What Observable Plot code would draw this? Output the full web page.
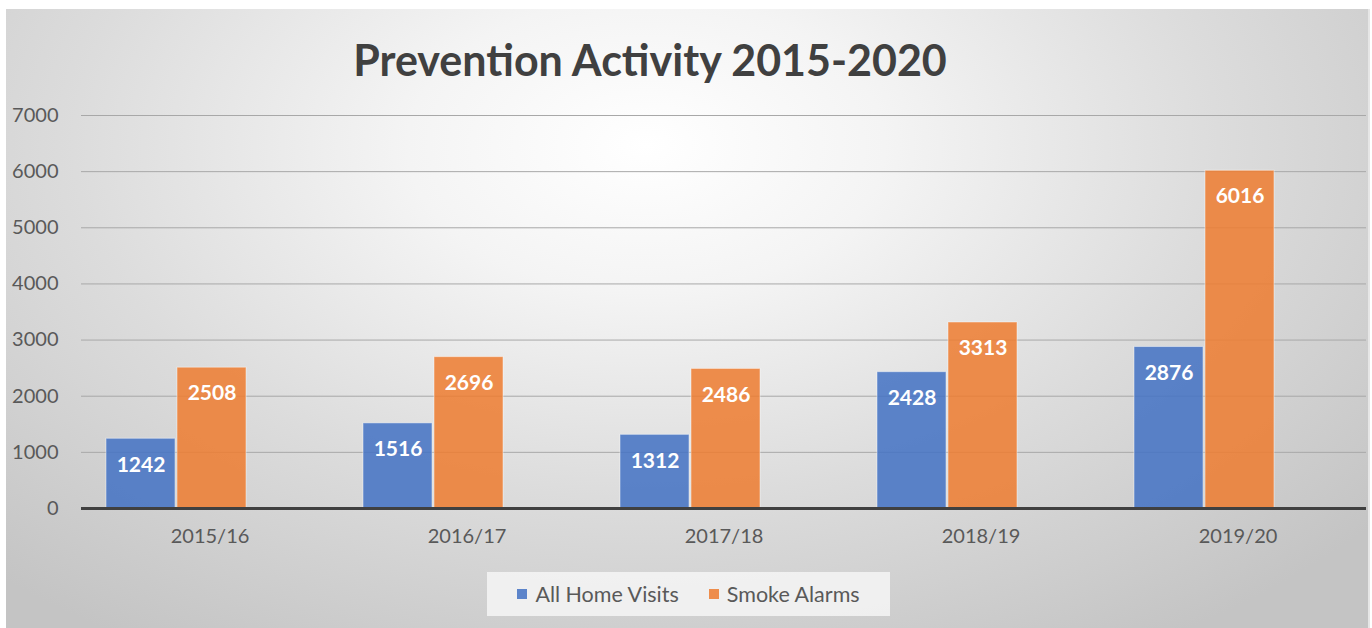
<!DOCTYPE html>
<html>
<head>
<meta charset="utf-8">
<script src="https://cdn.jsdelivr.net/npm/d3@7"></script>
<script src="https://cdn.jsdelivr.net/npm/@observablehq/plot@0.6"></script>
<style>
  html, body { margin: 0; padding: 0; background: #ffffff; }
  #page { position: relative; width: 1372px; height: 628px; overflow: hidden; font-family: Lato, "Open Sans", sans-serif; }
  #panel { position: absolute; left: 6px; top: 9px; width: 1362px; height: 619px;
    background: radial-gradient(ellipse 70% 95% at 47% 22%, #ffffff 0%, #f4f4f4 25%, #dcdcdc 60%, #c4c4c4 100%);
    border-right: 2px solid #e6e6e6; }
  #title { position: absolute; left: 0; top: 37px; width: 1300px; text-align: center; font-size: 43px; line-height: 46px; font-weight: 700; color: #404040; }
  #chart { position: absolute; left: 6px; top: 101px; }
  #legend { position: absolute; left: 487px; top: 572px; width: 403px; height: 44px; background: rgba(247,247,247,0.8); display: flex; align-items: center; justify-content: center; gap: 30px; font-size: 21.5px; color: #595959; }
  .item { display: flex; align-items: center; gap: 8px; }
  .sw { width: 10px; height: 10px; display: inline-block; }
</style>
</head>
<body>
<div id="page">
  <div id="panel"></div>
  <div id="title"></div>
  <div id="chart"></div>
  <div id="legend"></div>
</div>
<script>
const titleText = "Prevention Activity 2015-2020";
const years = ["2015/16", "2016/17", "2017/18", "2018/19", "2019/20"];
const seriesNames = ["All Home Visits", "Smoke Alarms"];
const homeVisits = [1242, 1516, 1312, 2428, 2876];
const smokeAlarms = [2508, 2696, 2486, 3313, 6016];
const seriesColors = ["#4472C4", "#ED7D31"];
const yTicks = [0, 1000, 2000, 3000, 4000, 5000, 6000, 7000];

const data = years.flatMap((yr, i) => [
  {year: yr, series: seriesNames[0], value: homeVisits[i]},
  {year: yr, series: seriesNames[1], value: smokeAlarms[i]}
]);

document.getElementById("title").textContent = titleText;

const chart = Plot.plot({
  width: 1362,
  height: 459,
  marginLeft: 75,
  marginRight: 2,
  marginTop: 14,
  marginBottom: 52,
  style: {background: "transparent", fontFamily: "Lato, 'Open Sans', sans-serif", fontSize: "20px", color: "#595959", overflow: "visible"},
  fx: {domain: years, padding: 0, label: null},
  x: {domain: seriesNames, paddingInner: 0, paddingOuter: 0.8, align: 0.21, axis: null},
  y: {domain: [0, 7000], label: null},
  color: {domain: seriesNames, range: seriesColors},
  marks: [
    Plot.gridY(yTicks, {stroke: "#a8a8a8", strokeOpacity: 1, strokeWidth: 1}),
    Plot.axisY(yTicks, {tickSize: 0, tickPadding: 23, label: null, fontSize: 20, tickFormat: d3.format("d")}),
    Plot.barY(data, {fx: "year", x: "series", y: "value", fill: "series", fillOpacity: 0.86,
      insetLeft: 1, insetRight: 1, stroke: "#ffffff", strokeOpacity: 0.45, strokeWidth: 1}),
    Plot.text(data, {fx: "year", x: "series", y: "value", text: d => String(d.value), dy: 26,
      fill: "#ffffff", fontWeight: "bold", fontSize: 21}),
    Plot.ruleY([0], {stroke: "#404040", strokeWidth: 3}),
    Plot.axisFx({anchor: "bottom", tickSize: 0, tickPadding: 20, label: null, fontSize: 20})
  ]
});
document.getElementById("chart").appendChild(chart);

const legend = document.getElementById("legend");
seriesNames.forEach((name, i) => {
  const item = document.createElement("div");
  item.className = "item";
  const sw = document.createElement("span");
  sw.className = "sw";
  sw.style.background = seriesColors[i];
  sw.style.opacity = 0.86;
  const label = document.createElement("span");
  label.textContent = name;
  item.appendChild(sw);
  item.appendChild(label);
  legend.appendChild(item);
});
</script>
</body>
</html>
